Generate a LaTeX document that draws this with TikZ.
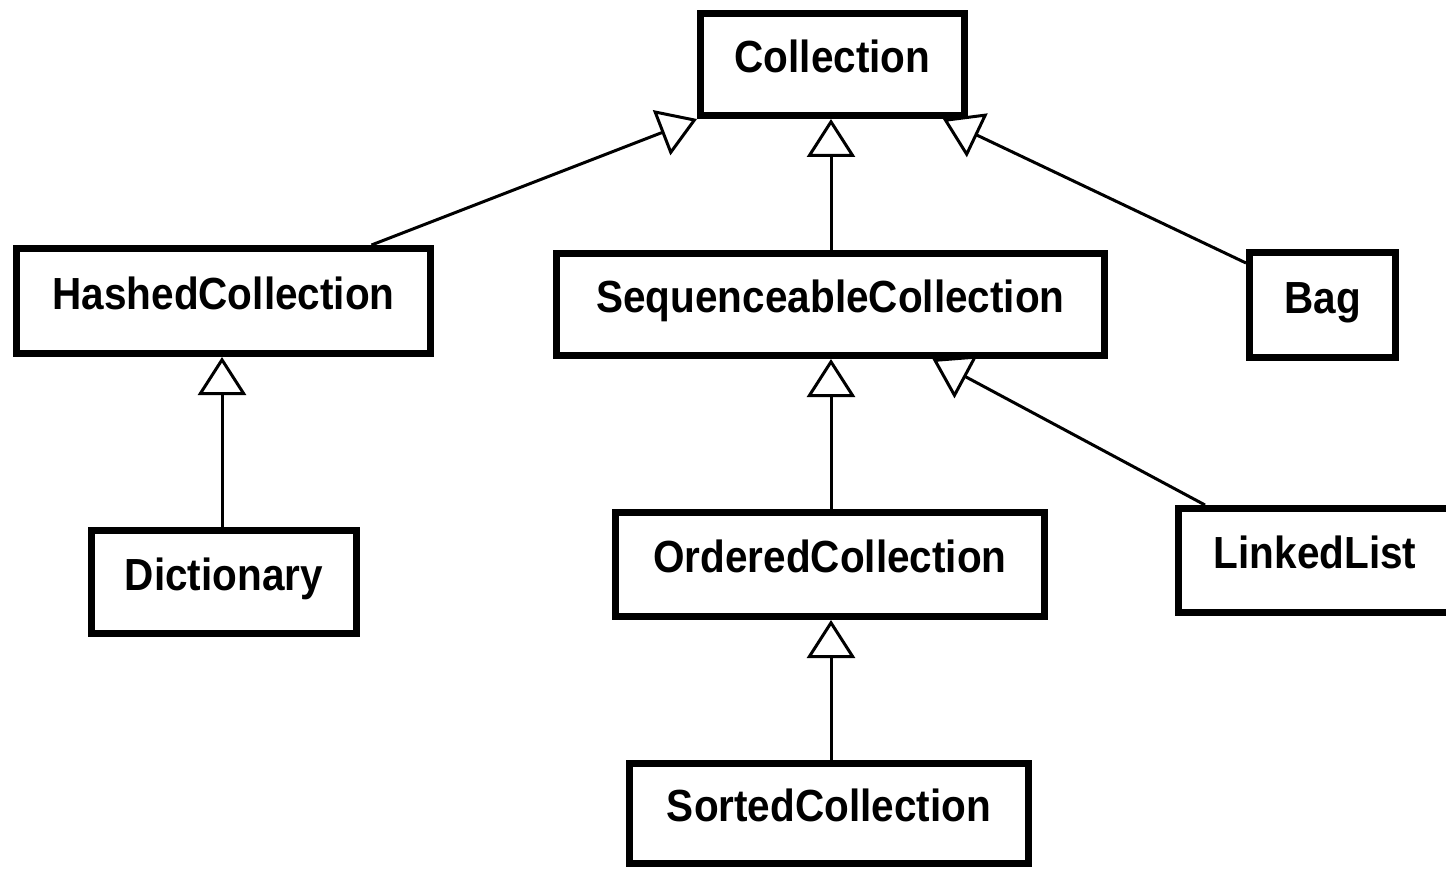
\documentclass[tikz,border=0pt]{standalone}
\usepackage{fontspec}
\setmainfont[FakeStretch=0.9]{Liberation Sans}
\usetikzlibrary{arrows.meta}
\tikzset{
  classbox/.style={draw, line width=7pt, fill=white, inner sep=0pt,
    text height=32pt, text depth=16pt,
    font=\fontsize{45}{50}\selectfont\bfseries},
  inherits/.style={line width=3pt, -{Triangle[open,length=38pt,width=48pt]}}
}
\begin{document}
\begin{tikzpicture}[x=1pt,y=-1pt]
\useasboundingbox (0,0) rectangle (1446,869);
\node[classbox, minimum width=264pt, minimum height=102pt] (coll) at (832.5,64.5) {Collection};
\node[classbox, minimum width=414pt, minimum height=105pt] (hashed) at (223.5,301) {HashedCollection};
\node[classbox, minimum width=548pt, minimum height=102pt] (seq) at (830.5,304.5) {SequenceableCollection};
\node[classbox, minimum width=146pt, minimum height=104pt] (bag) at (1322.5,305) {Bag};
\node[classbox, minimum width=265pt, minimum height=103pt] (dict) at (224,582) {Dictionary};
\node[classbox, minimum width=429pt, minimum height=104pt] (ordered) at (830,564.5) {OrderedCollection};
\node[classbox, minimum width=273pt, minimum height=104pt] (linked) at (1315,560.5) {LinkedList};
\node[classbox, minimum width=399pt, minimum height=100pt] (sorted) at (829,813.5) {SortedCollection};

\draw[inherits] ([xshift=148pt]hashed.north) -- (coll.south west);
\draw[inherits] ([xshift=0.5pt]seq.north) -- ([xshift=0.5pt]seq.north |- coll.south);
\draw[inherits] ([yshift=42pt]bag.west) -- ([xshift=-25pt]coll.south east);
\draw[inherits] ([xshift=-2pt]dict.north) -- ([xshift=-2pt]dict.north |- hashed.south);
\draw[inherits] ([xshift=1pt]ordered.north) -- ([xshift=1pt]ordered.north |- seq.south);
\draw[inherits] ([xshift=-110pt]linked.north) -- ([xshift=102pt]seq.south);
\draw[inherits] ([xshift=2pt]sorted.north) -- ([xshift=2pt]sorted.north |- ordered.south);
\end{tikzpicture}
\end{document}
